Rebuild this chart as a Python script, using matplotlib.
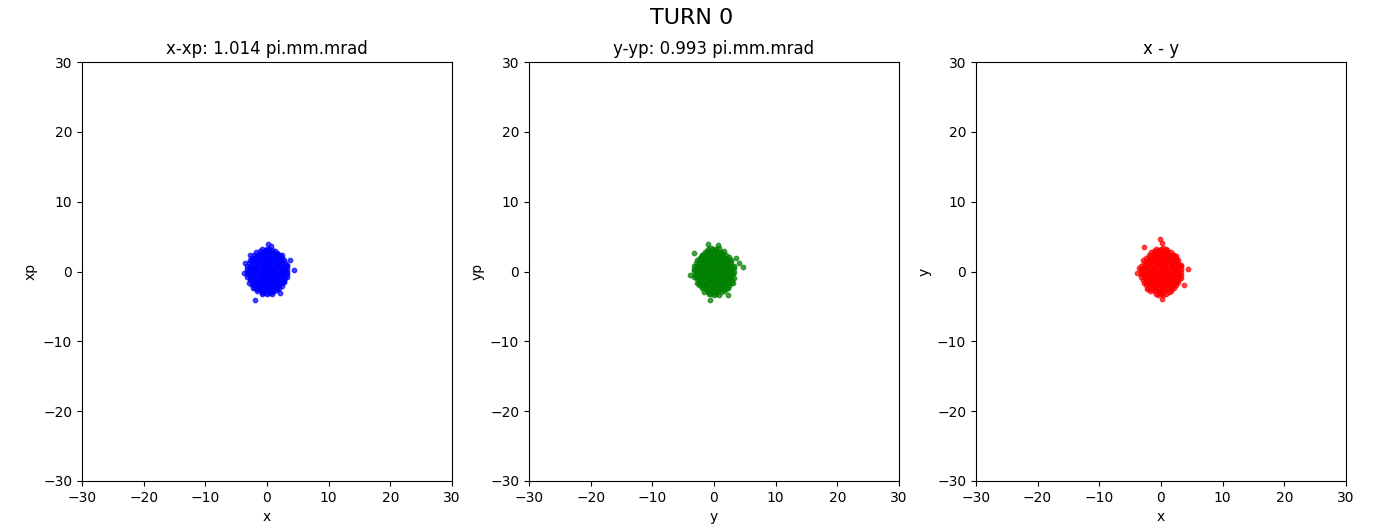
import matplotlib
matplotlib.use("Agg")
import matplotlib.pyplot as plt
import numpy as np

# particle coordinates at turn 0 (core rows first, then the halo)
x = [
    -0.8, -0.3, 0.0, 0.4, 0.8,
    -1.7, -1.2, -0.8, -0.3, 0.0, 0.4, 0.9, 1.3, 1.7,
    -2.1, -1.6, -1.2, -0.8, -0.4, 0.1, 0.4, 0.8, 1.3, 1.6, 2.1,
    -2.5, -2.0, -1.6, -1.2, -0.7, -0.4, 0.0, 0.4, 0.8, 1.2, 1.7, 2.0, 2.5,
    -2.8, -2.4, -2.0, -1.6, -1.2, -0.8, -0.3, 0.0, 0.4, 0.9, 1.2, 1.6, 2.1, 2.4, 2.8,
    -2.9, -2.4, -2.0, -1.6, -1.1, -0.8, -0.4, 0.1, 0.4, 0.8, 1.3, 1.6, 2.0, 2.4, 2.9,
    -3.2, -2.8, -2.4, -2.0, -1.7, -1.2, -0.8, -0.4, 0.1, 0.4, 0.8, 1.3, 1.6, 2.0, 2.4, 2.8, 3.2,
    -3.3, -2.8, -2.4, -1.9, -1.6, -1.2, -0.7, -0.4, 0.0, 0.5, 0.8, 1.2, 1.7, 2.0, 2.5, 2.9, 3.2,
    -3.2, -2.9, -2.4, -2.0, -1.6, -1.1, -0.8, -0.3, 0.0, 0.4, 0.9, 1.2, 1.6, 2.1, 2.4, 2.8, 3.3,
    -3.2, -2.8, -2.5, -2.0, -1.5, -1.2, -0.8, -0.4, 0.1, 0.4, 0.8, 1.3, 1.6, 2.0, 2.4, 2.8, 3.2,
    -3.2, -2.8, -2.4, -2.1, -1.6, -1.2, -0.7, -0.4, 0.0, 0.4, 0.7, 1.2, 1.7, 2.0, 2.4, 2.9, 3.2,
    -2.8, -2.4, -2.0, -1.6, -1.1, -0.8, -0.4, 0.0, 0.4, 0.8, 1.2, 1.7, 2.0, 2.4, 2.8,
    -2.9, -2.4, -2.0, -1.6, -1.2, -0.8, -0.4, 0.1, 0.4, 0.8, 1.3, 1.6, 2.0, 2.4, 2.8,
    -2.4, -2.0, -1.6, -1.2, -0.8, -0.3, 0.0, 0.4, 0.8, 1.2, 1.6, 2.0, 2.4,
    -2.0, -1.6, -1.2, -0.8, -0.4, 0.0, 0.4, 0.8, 1.2, 1.6, 2.0,
    -1.6, -1.2, -0.8, -0.4, 0.0, 0.4, 0.8, 1.2, 1.6,
    -0.8, -0.4, 0.0, 0.4, 0.8,
    4.4, -0.1, -1.9, 0.6, 0.2, -3.8, 0.1, -0.3, 0.7, 3.7,
    2.1, -2.7, 1.0, -3.6, -0.5, 0.5, 0.2, 3.3, -2.3, 2.4,
]
xp = [
    3.2, 3.1, 3.2, 3.2, 3.1,
    2.8, 2.9, 2.7, 2.8, 2.9, 2.7, 2.8, 2.9, 2.7,
    2.4, 2.3, 2.5, 2.4, 2.3, 2.4, 2.5, 2.3, 2.4, 2.5, 2.3,
    2.0, 1.9, 2.1, 2.0, 1.9, 2.0, 2.1, 1.9, 2.0, 2.1, 1.9, 2.0, 2.0,
    1.6, 1.7, 1.5, 1.6, 1.7, 1.6, 1.5, 1.6, 1.7, 1.5, 1.6, 1.7, 1.6, 1.5, 1.6,
    1.2, 1.1, 1.3, 1.2, 1.1, 1.2, 1.3, 1.2, 1.1, 1.2, 1.3, 1.1, 1.2, 1.3, 1.2,
    0.8, 0.7, 0.9, 0.8, 0.7, 0.8, 0.9, 0.8, 0.7, 0.8, 0.9, 0.7, 0.8, 0.9, 0.8, 0.7, 0.8,
    0.4, 0.5, 0.3, 0.4, 0.5, 0.4, 0.3, 0.4, 0.5, 0.3, 0.4, 0.5, 0.4, 0.3, 0.4, 0.5, 0.4,
    0.0, -0.1, 0.1, 0.0, -0.1, 0.0, 0.1, 0.0, -0.1, 0.1, 0.0, -0.1, 0.0, 0.1, 0.0, -0.1, 0.0,
    -0.4, -0.3, -0.5, -0.4, -0.3, -0.4, -0.5, -0.4, -0.3, -0.4, -0.5, -0.4, -0.3, -0.4, -0.5, -0.4, -0.3,
    -0.8, -0.9, -0.7, -0.8, -0.9, -0.8, -0.7, -0.8, -0.9, -0.8, -0.7, -0.8, -0.9, -0.7, -0.8, -0.9, -0.8,
    -1.2, -1.1, -1.3, -1.2, -1.1, -1.2, -1.3, -1.2, -1.1, -1.2, -1.3, -1.2, -1.1, -1.2, -1.3,
    -1.6, -1.7, -1.5, -1.6, -1.7, -1.6, -1.5, -1.6, -1.7, -1.6, -1.5, -1.6, -1.7, -1.6, -1.5,
    -2.0, -2.1, -1.9, -2.0, -2.1, -2.0, -1.9, -2.0, -2.1, -2.0, -1.9, -2.0, -2.1,
    -2.4, -2.5, -2.3, -2.4, -2.5, -2.4, -2.3, -2.4, -2.5, -2.4, -2.3,
    -2.8, -2.7, -2.9, -2.8, -2.7, -2.8, -2.9, -2.8, -2.7,
    -3.2, -3.1, -3.2, -3.1, -3.2,
    0.2, 0.9, -4.1, -0.8, -1.2, -0.2, 3.9, -1.6, 3.6, 1.6,
    -3.1, 2.4, -0.9, 1.2, 0.3, -2.0, -0.3, 0.9, -2.4, 2.3,
]
y = [
    -3.2, -3.1, -3.2, -3.3, -3.2,
    -2.8, -2.8, -2.7, -2.9, -2.8, -2.8, -2.7, -2.9, -2.8,
    -2.4, -2.5, -2.3, -2.4, -2.4, -2.5, -2.3, -2.4, -2.4, -2.5, -2.3,
    -2.0, -2.0, -1.9, -2.1, -2.0, -1.9, -2.0, -2.1, -1.9, -2.0, -2.0, -2.1, -1.9,
    -1.6, -1.5, -1.6, -1.7, -1.6, -1.5, -1.6, -1.7, -1.6, -1.6, -1.5, -1.6, -1.7, -1.6, -1.5,
    -1.2, -1.3, -1.2, -1.1, -1.2, -1.3, -1.2, -1.1, -1.2, -1.2, -1.3, -1.1, -1.2, -1.2, -1.1,
    -0.8, -0.8, -0.7, -0.9, -0.8, -0.7, -0.8, -0.9, -0.8, -0.7, -0.8, -0.9, -0.8, -0.7, -0.8, -0.8, -0.9,
    -0.4, -0.3, -0.4, -0.5, -0.4, -0.3, -0.4, -0.5, -0.4, -0.4, -0.3, -0.4, -0.5, -0.4, -0.4, -0.3, -0.5,
    0.0, 0.1, 0.0, -0.1, 0.0, 0.1, 0.0, -0.1, 0.0, 0.0, 0.1, 0.0, -0.1, 0.0, 0.1, 0.0, -0.1,
    0.4, 0.4, 0.5, 0.3, 0.4, 0.5, 0.4, 0.3, 0.4, 0.5, 0.4, 0.3, 0.4, 0.4, 0.5, 0.3, 0.4,
    0.8, 0.7, 0.8, 0.9, 0.8, 0.7, 0.8, 0.9, 0.8, 0.8, 0.7, 0.8, 0.9, 0.8, 0.7, 0.8, 0.9,
    1.2, 1.3, 1.2, 1.1, 1.2, 1.3, 1.2, 1.1, 1.2, 1.2, 1.3, 1.1, 1.2, 1.3, 1.2,
    1.6, 1.5, 1.6, 1.7, 1.6, 1.5, 1.6, 1.7, 1.6, 1.6, 1.5, 1.7, 1.6, 1.5, 1.6,
    2.0, 1.9, 2.0, 2.1, 2.0, 1.9, 2.0, 2.1, 2.0, 1.9, 2.0, 2.1, 2.0,
    2.4, 2.3, 2.4, 2.5, 2.4, 2.3, 2.4, 2.5, 2.4, 2.3, 2.4,
    2.8, 2.9, 2.8, 2.7, 2.8, 2.9, 2.8, 2.7, 2.8,
    3.2, 3.1, 3.2, 3.3, 3.2,
    0.3, 4.7, -1.0, -0.6, -3.9, -0.2, 1.4, -1.0, -2.0, -1.9,
    2.3, 3.5, 3.1, 0.5, -3.3, 0.7, 4.1, 0.8, -2.5, 2.2,
]
yp = [
    -0.8, -0.5, 0.1, 0.4, 0.8,
    -1.6, -1.1, -0.8, -0.4, 0.1, 0.4, 0.8, 1.2, 1.6,
    -2.0, -1.7, -1.2, -0.7, -0.4, 0.0, 0.5, 0.8, 1.2, 1.7, 2.0,
    -2.4, -2.1, -1.6, -1.1, -0.8, -0.3, 0.0, 0.5, 0.8, 1.3, 1.6, 2.1, 2.4,
    -2.9, -2.4, -1.9, -1.6, -1.2, -0.7, -0.4, 0.1, 0.4, 0.8, 1.3, 1.6, 2.0, 2.5, 2.8,
    -2.8, -2.5, -2.0, -1.5, -1.2, -0.8, -0.3, 0.0, 0.5, 0.8, 1.2, 1.7, 2.0, 2.4, 2.9,
    -3.2, -2.9, -2.4, -2.0, -1.6, -1.1, -0.8, -0.4, 0.0, 0.5, 0.8, 1.2, 1.7, 2.0, 2.4, 2.9, 3.2,
    -3.2, -2.8, -2.5, -2.0, -1.5, -1.2, -0.8, -0.3, 0.1, 0.4, 0.9, 1.2, 1.6, 2.1, 2.4, 2.8, 3.3,
    -3.3, -2.8, -2.4, -2.1, -1.6, -1.2, -0.7, -0.4, 0.1, 0.4, 0.8, 1.3, 1.6, 2.0, 2.5, 2.8, 3.2,
    -3.2, -2.9, -2.4, -1.9, -1.6, -1.1, -0.8, -0.4, 0.0, 0.5, 0.8, 1.2, 1.7, 2.0, 2.4, 2.9, 3.2,
    -3.3, -2.8, -2.5, -2.0, -1.6, -1.2, -0.8, -0.3, 0.1, 0.4, 0.8, 1.3, 1.6, 2.1, 2.4, 2.8, 3.3,
    -2.9, -2.4, -1.9, -1.6, -1.2, -0.7, -0.4, 0.1, 0.4, 0.9, 1.2, 1.6, 2.1, 2.4, 2.8,
    -2.8, -2.5, -2.0, -1.5, -1.2, -0.8, -0.3, 0.0, 0.5, 0.8, 1.2, 1.7, 2.0, 2.5, 2.9,
    -2.5, -2.0, -1.6, -1.1, -0.7, -0.4, 0.1, 0.4, 0.9, 1.2, 1.7, 2.0, 2.4,
    -2.1, -1.6, -1.1, -0.8, -0.4, 0.1, 0.4, 0.7, 1.2, 1.6, 2.1,
    -1.7, -1.2, -0.7, -0.4, 0.1, 0.4, 0.8, 1.3, 1.6,
    -0.9, -0.4, 0.0, 0.5, 0.8,
    -0.6, 0.7, 1.5, -4.1, -0.5, 1.0, -1.8, 4.0, 2.2, -0.3,
    -3.4, 1.9, -1.7, -0.4, 2.6, 3.8, 1.2, 0.2, 0.6, -2.3,
]

turn = 0
emit_x = 1.014
emit_y = 0.993
lim = 30

fig, axes = plt.subplots(1, 3, figsize=(13.84, 5.31), dpi=100)
fig.subplots_adjust(left=0.0592, right=0.9725, bottom=0.0942, top=0.8832, wspace=0.208)

panels = [
    (x, xp, "b", f"x-xp: {emit_x:.3f} pi.mm.mrad", "x", "xp"),
    (y, yp, "g", f"y-yp: {emit_y:.3f} pi.mm.mrad", "y", "yp"),
    (x, y, "r", "x - y", "x", "y"),
]
for ax, (u, v, c, title, xl, yl) in zip(axes, panels):
    ax.scatter(u, v, s=10, c=c, alpha=0.7)
    ax.set_xlim(-lim, lim)
    ax.set_ylim(-lim, lim)
    ax.set_xticks(np.arange(-30, 31, 10))
    ax.set_yticks(np.arange(-30, 31, 10))
    ax.set_title(title)
    ax.set_xlabel(xl)
    ax.set_ylabel(yl)

fig.suptitle(f"TURN {turn}", fontsize=16, y=0.985)
fig.savefig("out.png", dpi=100)
